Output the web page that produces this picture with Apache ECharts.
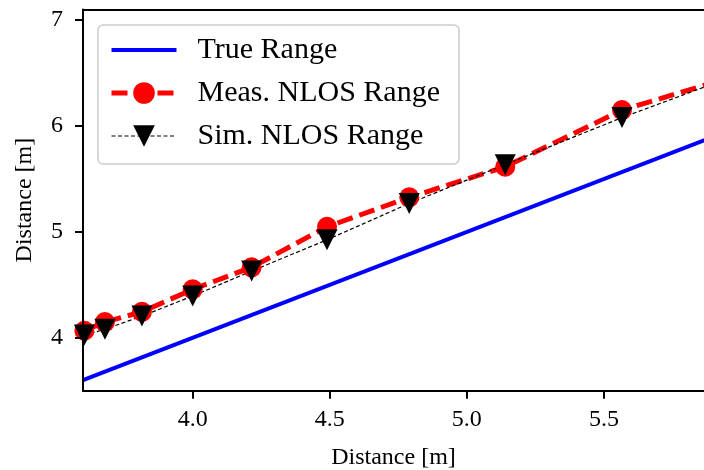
<!DOCTYPE html>
<html><head><meta charset="utf-8">
<script src="https://cdn.jsdelivr.net/npm/echarts@6/dist/echarts.min.js"></script>
<style>html,body{margin:0;padding:0;background:#fff}#c{width:704px;height:470px}</style>
</head><body><div id="c"></div>
<script>
// ---- data ----
const distX = [3.605, 3.68, 3.815, 4.0, 4.215, 4.49, 4.79, 5.14, 5.566, 5.9];
const measRange = [4.066, 4.148, 4.245, 4.457, 4.665, 5.048, 5.326, 5.615, 6.150, 6.41];
const simRange = [4.025, 4.08, 4.205, 4.394, 4.63, 4.925, 5.269, 5.635, 6.079, 6.40];
const trueX = [3.6, 5.9];
const trueRange = [3.6, 5.9];
const xTicks = [4.0, 4.5, 5.0, 5.5];
const yTicks = [4, 5, 6, 7];
const seriesNames = ['True Range', 'Meas. NLOS Range', 'Sim. NLOS Range'];
const axisTitle = 'Distance [m]';

const FONT = 'Liberation Serif';
const X_MIN = 3.6, X_MAX = 5.865, Y_MIN = 3.5, Y_MAX = 7.1;
const zip = (a, b) => a.map((v, i) => [v, b[i]]);

const chart = echarts.init(document.getElementById('c'), null, {renderer: 'canvas'});
chart.setOption({
  animation: false,
  backgroundColor: '#fff',
  grid: {left: 83, top: 9.5, right: 0, bottom: 79.3, outerBoundsMode: 'none', containLabel: false},
  xAxis: [{
    type: 'value', min: X_MIN, max: X_MAX, z: 5,
    axisLine: {show: true, onZero: false, lineStyle: {color: '#000', width: 2}},
    axisTick: {show: true, customValues: xTicks, length: 8, lineStyle: {color: '#000', width: 2}},
    axisLabel: {customValues: xTicks, formatter: v => v.toFixed(1), fontFamily: FONT, fontSize: 24, color: '#000', margin: 17},
    splitLine: {show: false},
    name: axisTitle, nameLocation: 'middle', nameGap: 55,
    nameTextStyle: {fontFamily: FONT, fontSize: 24, color: '#000'}
  }, {
    type: 'value', min: X_MIN, max: X_MAX, position: 'top', z: 5,
    axisLine: {show: true, onZero: false, lineStyle: {color: '#000', width: 2}},
    axisTick: {show: false}, axisLabel: {show: false}, splitLine: {show: false}
  }],
  yAxis: {
    type: 'value', min: Y_MIN, max: Y_MAX, z: 5,
    axisLine: {show: true, onZero: false, lineStyle: {color: '#000', width: 2}},
    axisTick: {show: true, customValues: yTicks, length: 8, lineStyle: {color: '#000', width: 2}},
    axisLabel: {customValues: yTicks, formatter: v => String(v), fontFamily: FONT, fontSize: 24, color: '#000', margin: 20},
    splitLine: {show: false},
    name: axisTitle, nameLocation: 'middle', nameGap: 46,
    nameTextStyle: {fontFamily: FONT, fontSize: 24, color: '#000'}
  },
  legend: {
    orient: 'vertical', left: 98, top: 25,
    itemWidth: 65, itemHeight: 27, itemGap: 13,
    padding: [10, 19, 13, 11],
    backgroundColor: '#fff', borderColor: '#cccccc', borderWidth: 1.5, borderRadius: 5,
    textStyle: {fontFamily: FONT, fontSize: 30, color: '#000', padding: [0, 0, 0, 16]},
    lineStyle: {width: 'inherit'},
    data: [{name: seriesNames[0], itemStyle: {opacity: 0}}, seriesNames[1], seriesNames[2]]
  },
  graphic: [{type: 'rect', z: 3, shape: {x: 68, y: 300, width: 14, height: 60}, style: {fill: '#fff'}, silent: true}],
  series: [
    {
      name: seriesNames[0], type: 'line', data: zip(trueX, trueRange),
      symbol: 'none', color: '#0000ff', clip: true,
      lineStyle: {color: '#0000ff', width: 4}
    },
    {
      name: seriesNames[1], type: 'line', data: zip(distX, measRange),
      symbol: 'circle', symbolSize: 20, color: '#ff0000', clip: true,
      itemStyle: {color: '#ff0000'},
      lineStyle: {color: '#ff0000', width: 5, type: [16, 7]}
    },
    {
      name: seriesNames[2], type: 'line', data: zip(distX, simRange),
      symbol: 'triangle', symbolRotate: 180, symbolSize: [21, 21], color: '#000', clip: true,
      itemStyle: {color: '#000'},
      lineStyle: {color: '#000', width: 1.2, type: [4, 2.5]}
    }
  ]
});
</script></body></html>
